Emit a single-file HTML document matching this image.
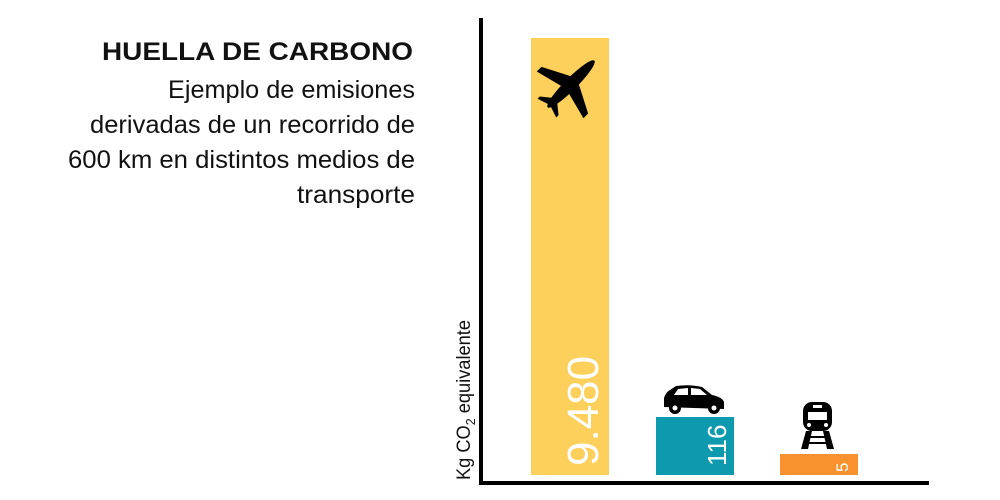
<!DOCTYPE html>
<html><head><meta charset="utf-8"><style>
html,body{margin:0;padding:0;background:#fff;}
svg{display:block;}
</style></head><body>
<svg width="1000" height="500" viewBox="0 0 1000 500" xmlns="http://www.w3.org/2000/svg" font-family="Liberation Sans, sans-serif">
<rect width="1000" height="500" fill="#fff"/>
<text x="413" y="60" text-anchor="end" font-weight="bold" font-size="25" textLength="311" lengthAdjust="spacingAndGlyphs" fill="#111">HUELLA DE CARBONO</text>
<g font-size="25" fill="#111" text-anchor="end">
<text x="415" y="98" textLength="247" lengthAdjust="spacingAndGlyphs">Ejemplo de emisiones</text>
<text x="415" y="133" textLength="325" lengthAdjust="spacingAndGlyphs">derivadas de un recorrido de</text>
<text x="415" y="168" textLength="347" lengthAdjust="spacingAndGlyphs">600 km en distintos medios de</text>
<text x="415" y="203" textLength="118" lengthAdjust="spacingAndGlyphs">transporte</text>
</g>
<rect x="531" y="38" width="78" height="437" fill="#FDD05C"/>
<rect x="656" y="417" width="78" height="58" fill="#0E9AAE"/>
<rect x="780" y="454" width="78" height="21" fill="#F7922F"/>
<rect x="479" y="18" width="4" height="467" fill="#000"/>
<rect x="479" y="481" width="450" height="4" fill="#000"/>
<text transform="translate(598,466) rotate(-90)" font-size="44" fill="#fff">9.480</text>
<text transform="translate(726,466) rotate(-90)" font-size="26" fill="#fff">116</text>
<text transform="translate(848,472) rotate(-90)" font-size="17" fill="#fff">5</text>
<text transform="translate(470,480) rotate(-90)" font-size="19" fill="#111" textLength="160" lengthAdjust="spacingAndGlyphs">Kg CO<tspan font-size="13" dy="5">2</tspan><tspan dy="-5"> equivalente</tspan></text>
<g transform="translate(571,84) rotate(45) scale(1.1)" fill="#000">
<ellipse cx="0" cy="0" rx="5.5" ry="30"/>
<path d="M-3,-6 L-30,8 L-30,14 L-3,7 Z M3,-6 L30,8 L30,14 L3,7 Z"/>
<path d="M-2,20 L-12,28 L-12,31 L0,27 L12,31 L12,28 L2,20 Z"/>
</g>
<g fill="#000">
<path d="M664,407 L664,398 Q666,392 670,390 L676,386 Q690,384 702,387 L712,395 Q722,397 724,402 L724,409 Z"/>
<circle cx="675" cy="408" r="6"/><circle cx="714" cy="408" r="6"/>
<circle cx="675" cy="408" r="2.5" fill="#fff"/><circle cx="714" cy="408" r="2.5" fill="#fff"/>
<path d="M678,389 L688,388 L688,395 L674,395 Z M691,388 L700,389 L707,395 L691,395 Z" fill="#fff"/>
</g>
<g fill="#000">
<rect x="803" y="402" width="29" height="29" rx="9"/>
<rect x="808" y="412" width="19" height="8" fill="#fff"/>
<rect x="813" y="405" width="9" height="3" fill="#fff"/>
<circle cx="809" cy="425" r="2" fill="#fff"/><circle cx="826" cy="425" r="2" fill="#fff"/>
<path d="M806,431 L812,431 L808,449 L801,449 Z M823,431 L829,431 L834,449 L827,449 Z"/>
<rect x="807" y="436" width="22" height="2"/><rect x="805" y="442" width="26" height="2"/>
</g>
</svg>
</body></html>
